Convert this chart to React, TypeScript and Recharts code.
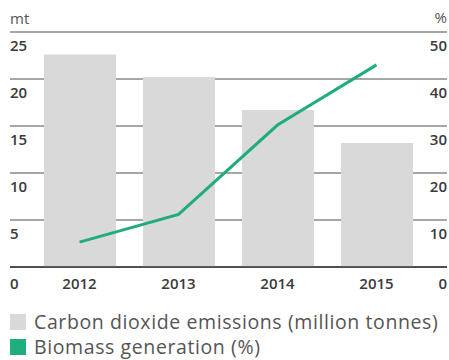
import React from 'react';
import {
  ComposedChart,
  Bar,
  Line,
  XAxis,
  YAxis,
  CartesianGrid,
} from 'recharts';

const years = ['2012', '2013', '2014', '2015'];
const co2Emissions = [22.6, 20.2, 16.7, 13.2];
const biomassShare = [5.3, 11.2, 30.2, 43];
const leftTicks = [0, 5, 10, 15, 20, 25];
const rightTicks = [0, 10, 20, 30, 40, 50];

const GREEN = '#20ad7e';
const GREY_BAR = '#d9d9d9';
const FONT = '"Open Sans", sans-serif';

const data = years.map((year, i) => ({
  year,
  co2: co2Emissions[i],
  biomass: biomassShare[i],
}));

const tickText = {
  fill: '#3a3a3a',
  fontSize: 15,
  fontWeight: 600,
  fontFamily: FONT,
};

const LeftTick = (props: any) => {
  const { y, payload } = props;
  return (
    <text
      x={10}
      y={y + (payload.value === 0 ? 16 : 13)}
      textAnchor="start"
      dominantBaseline="central"
      {...tickText}
    >
      {payload.value}
    </text>
  );
};

const RightTick = (props: any) => {
  const { y, payload } = props;
  return (
    <text
      x={447}
      y={y + (payload.value === 0 ? 16 : 13)}
      textAnchor="end"
      dominantBaseline="central"
      {...tickText}
    >
      {payload.value}
    </text>
  );
};

const YearTick = (props: any) => {
  const { x, payload } = props;
  return (
    <text x={x} y={283} textAnchor="middle" dominantBaseline="central" {...tickText}>
      {payload.value}
    </text>
  );
};

const LegendRow = ({ color, label }: { color: string; label: string }) => (
  <div style={{ display: 'flex', alignItems: 'center', height: 25 }}>
    <span
      style={{
        display: 'inline-block',
        width: 16,
        height: 16,
        background: color,
        marginRight: 8,
        flexShrink: 0,
      }}
    />
    <span
      style={{
        fontSize: 19.5,
        lineHeight: 1,
        letterSpacing: 0.6,
        color: '#555',
        fontFamily: FONT,
        whiteSpace: 'nowrap',
      }}
    >
      {label}
    </span>
  </div>
);

export default function App() {
  return (
    <div
      style={{
        position: 'absolute',
        top: 0,
        left: 0,
        width: 449,
        height: 360,
        background: '#fff',
        fontFamily: FONT,
        overflow: 'hidden',
      }}
    >
      <div style={{ position: 'absolute', left: 10, top: 8, fontSize: 15, color: '#555' }}>
        mt
      </div>
      <div style={{ position: 'absolute', right: 2, top: 7, fontSize: 15, color: '#555' }}>
        %
      </div>
      <ComposedChart
        width={449}
        height={300}
        data={data}
        margin={{ top: 32, right: 1, bottom: 3, left: 9 }}
        style={{ position: 'absolute', top: 0, left: 0 }}
      >
        <CartesianGrid yAxisId="left" vertical={false} stroke="#888" strokeWidth={1.5} />
        <XAxis
          dataKey="year"
          yAxisId="left"
          height={30}
          padding={{ left: 20, right: 21 }}
          axisLine={{ stroke: '#333', strokeWidth: 1.5 }}
          tickLine={false}
          tick={<YearTick />}
        />
        <YAxis
          yAxisId="left"
          orientation="left"
          width={1}
          domain={[0, 25]}
          ticks={leftTicks}
          interval={0}
          axisLine={false}
          tickLine={false}
          tick={<LeftTick />}
        />
        <YAxis
          yAxisId="right"
          orientation="right"
          width={1}
          domain={[0, 50]}
          ticks={rightTicks}
          interval={0}
          axisLine={false}
          tickLine={false}
          tick={<RightTick />}
        />
        <Bar yAxisId="left" dataKey="co2" fill={GREY_BAR} barSize={72} isAnimationActive={false} />
        <Line
          yAxisId="right"
          dataKey="biomass"
          stroke={GREEN}
          strokeWidth={3}
          dot={false}
          activeDot={false}
          type="linear"
          isAnimationActive={false}
        />
      </ComposedChart>
      <div style={{ position: 'absolute', left: 10, top: 309 }}>
        <LegendRow color={GREY_BAR} label="Carbon dioxide emissions (million tonnes)" />
        <LegendRow color={GREEN} label="Biomass generation (%)" />
      </div>
    </div>
  );
}
